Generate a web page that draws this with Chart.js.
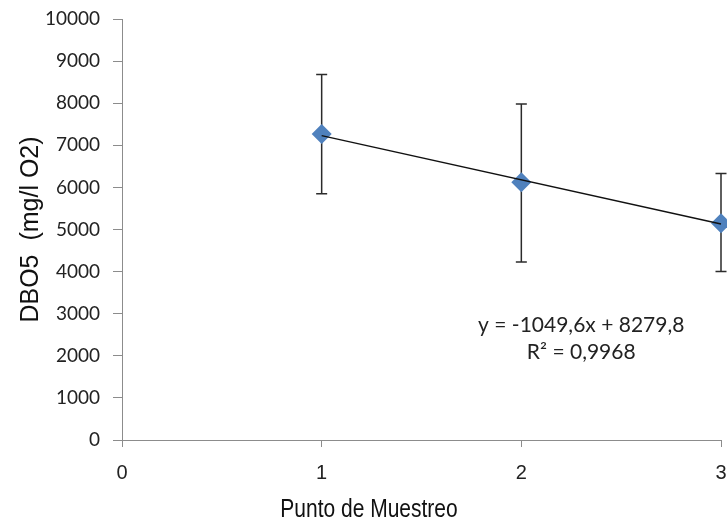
<!DOCTYPE html>
<html>
<head>
<meta charset="utf-8">
<script src="https://cdn.jsdelivr.net/npm/chart.js@4.4.1/dist/chart.umd.min.js"></script>
<style>
  html, body { margin: 0; padding: 0; background: #ffffff; }
  #wrap { width: 727px; height: 525px; position: relative; }
</style>
</head>
<body>
<div id="wrap"><canvas id="c" width="727" height="525"></canvas></div>
<script>
// ---- data ----
const pointX = [1, 2, 3];
const dbo5Mean = [7270, 6120, 5150];
const errUpper = [8680, 7980, 6330];
const errLower = [5850, 4230, 4000];
const trendSlope = -1049.6;
const trendIntercept = 8279.8;
const trendLabel = "y = -1049,6x + 8279,8";
const r2Label = "R\u00B2 = 0,9968";
const xTitle = "Punto de Muestreo";
const yTitle = "DBO5  (mg/l O2)";

const meanPoints = pointX.map((x, i) => ({ x: x, y: dbo5Mean[i] }));
const trendPoints = [pointX[0], pointX[pointX.length - 1]].map(x => ({ x: x, y: trendSlope * x + trendIntercept }));

const errorBarPlugin = {
  id: 'errorBars',
  beforeDatasetsDraw(chart) {
    const ctx = chart.ctx;
    const xs = chart.scales.x, ys = chart.scales.y;
    ctx.save();
    ctx.strokeStyle = '#2b2b2b';
    ctx.lineWidth = 1.5;
    pointX.forEach((x, i) => {
      const px = xs.getPixelForValue(x);
      const top = ys.getPixelForValue(errUpper[i]);
      const bot = ys.getPixelForValue(errLower[i]);
      ctx.beginPath();
      ctx.moveTo(px, top); ctx.lineTo(px, bot);
      ctx.moveTo(px - 5.5, top); ctx.lineTo(px + 5.5, top);
      ctx.moveTo(px - 5.5, bot); ctx.lineTo(px + 5.5, bot);
      ctx.stroke();
    });
    ctx.restore();
  },
  afterDatasetsDraw(chart, args, opts) {
    const ctx = chart.ctx;
    const xs = chart.scales.x, ys = chart.scales.y;
    ctx.save();
    ctx.fillStyle = '#222222';
    ctx.font = '21px Lato';
    ctx.textAlign = 'center';
    ctx.textBaseline = 'middle';
    ctx.fillText(trendLabel, xs.getPixelForValue(opts.eqX), ys.getPixelForValue(opts.eqY1));
    ctx.fillText(r2Label, xs.getPixelForValue(opts.eqX), ys.getPixelForValue(opts.eqY2));
    ctx.restore();
  }
};

// x-axis title drawn in a condensed style (narrow sans), centred on the canvas
const xTitlePlugin = {
  id: 'xTitleNarrow',
  afterDraw(chart, args, opts) {
    const ctx = chart.ctx;
    ctx.save();
    ctx.fillStyle = '#111111';
    ctx.font = '25px "Liberation Sans", Arial';
    ctx.textAlign = 'center';
    ctx.textBaseline = 'middle';
    ctx.translate(opts.cx, opts.cy);
    ctx.scale(0.84, 1);
    ctx.fillText(xTitle, 0, 0);
    ctx.restore();
  }
};

function zeroPadding(scale) {
  scale.paddingTop = 0; scale.paddingBottom = 0;
  scale.paddingLeft = 0; scale.paddingRight = 0;
}

new Chart(document.getElementById('c'), {
  type: 'scatter',
  data: {
    datasets: [
      {
        label: 'Tendencia',
        type: 'line',
        data: trendPoints,
        borderColor: '#111111',
        borderWidth: 1.4,
        pointRadius: 0,
        fill: false,
        order: 0,
        clip: false
      },
      {
        label: 'DBO5',
        data: meanPoints,
        pointStyle: 'rectRot',
        pointRadius: 10,
        pointHoverRadius: 10,
        backgroundColor: '#4F81BD',
        borderColor: '#4F81BD',
        borderWidth: 0,
        order: 1,
        clip: false
      }
    ]
  },
  options: {
    responsive: false,
    animation: false,
    events: [],
    layout: { autoPadding: false, padding: { top: 19, right: 6, left: 0, bottom: 0 } },
    plugins: {
      legend: { display: false },
      tooltip: { enabled: false },
      errorBars: { eqX: 2.30, eqY1: 2730, eqY2: 2090 },
      xTitleNarrow: { cx: 369, cy: 510 }
    },
    scales: {
      x: {
        type: 'linear',
        min: 0, max: 3,
        ticks: { stepSize: 1, color: '#222222', padding: 14,
                 font: { family: '"Liberation Sans", Arial', size: 20 } },
        grid: { drawOnChartArea: false, drawTicks: true, tickLength: 7, color: '#8c8c8c' },
        border: { color: '#8c8c8c', width: 1 },
        title: { display: false, text: xTitle },
        afterFit(scale) { scale.height = 85; zeroPadding(scale); }
      },
      y: {
        type: 'linear',
        min: 0, max: 10000,
        ticks: { stepSize: 1000, color: '#222222', padding: 13,
                 font: { family: 'Lato', size: 19 },
                 callback: (v) => String(v) },
        grid: { drawOnChartArea: false, drawTicks: true, tickLength: 9, color: '#8c8c8c' },
        border: { color: '#8c8c8c', width: 1 },
        title: { display: true, text: yTitle, color: '#111111', padding: { top: 16, bottom: 0 },
                 font: { family: '"Liberation Sans", Arial', size: 25 } },
        afterFit(scale) { scale.width = 122; zeroPadding(scale); }
      }
    }
  },
  plugins: [errorBarPlugin, xTitlePlugin]
});
</script>
</body>
</html>
